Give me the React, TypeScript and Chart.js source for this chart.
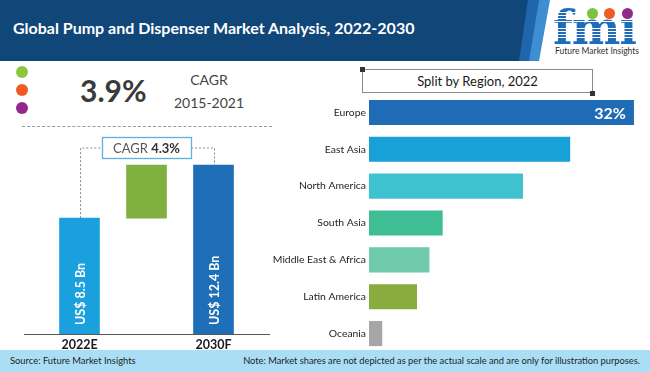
import React, { useEffect, useRef } from "react";
import { Chart, registerables } from "chart.js";

Chart.register(...registerables);

// ---------- data ----------
const periods = ["2022E", "", "2030F"];
const marketStart = 8.5; // US$ Bn, 2022E
const marketEnd = 12.4; // US$ Bn, 2030F
const forecastCagr = "4.3%";
const historicCagr = "3.9%";
const historicPeriod = "2015-2021";

const regions = [
  "Europe",
  "East Asia",
  "North America",
  "South Asia",
  "Middle East & Africa",
  "Latin America",
  "Oceania",
];
const regionShares = [32, 24.3, 18.6, 8.9, 7.3, 5.8, 1.6];
const regionColors = [
  "#1f6bb5",
  "#18a0d9",
  "#3ec2cf",
  "#3fbd95",
  "#6ecaaa",
  "#8aab3d",
  "#a6a6a6",
];
const marketColors = ["#1aa0dc", "#80b040", "#1f6eb8"];

const FONT = "Lato, 'Open Sans', sans-serif";

const marketBarPlugin = {
  id: "marketBarPlugin",
  afterDatasetsDraw(chart: any) {
    const ctx = chart.ctx;
    const meta = chart.getDatasetMeta(0);
    const bars = meta.data;
    // rotated value labels
    const vals = [marketStart, null, marketEnd];
    ctx.save();
    ctx.fillStyle = "#ffffff";
    ctx.font = "bold 12.5px " + FONT;
    ctx.textAlign = "left";
    ctx.textBaseline = "middle";
    bars.forEach((b: any, i: number) => {
      const v = vals[i];
      if (v == null) return;
      ctx.save();
      ctx.translate(b.x, b.base - 9);
      ctx.rotate(-Math.PI / 2);
      ctx.fillText("US$ " + v + " Bn", 0, 1);
      ctx.restore();
    });
    ctx.restore();

    // CAGR box + dotted connectors
    const b0 = bars[0];
    const b1 = bars[1];
    const b2 = bars[2];
    const boxTop = chart.chartArea.top + 2;
    const boxH = 21;
    const boxW = 89;
    const boxY = boxTop + boxH / 2;
    const boxL = b1.x - boxW / 2;
    const boxR = b1.x + boxW / 2;
    ctx.save();
    ctx.strokeStyle = "#8a8a8a";
    ctx.lineWidth = 1;
    ctx.setLineDash([2, 2]);
    ctx.beginPath();
    ctx.moveTo(Math.round(b0.x) + 0.5, b0.y);
    ctx.lineTo(Math.round(b0.x) + 0.5, boxY + 0.5);
    ctx.lineTo(boxL, boxY + 0.5);
    ctx.moveTo(boxR, boxY + 0.5);
    ctx.lineTo(Math.round(b2.x) + 0.5, boxY + 0.5);
    ctx.lineTo(Math.round(b2.x) + 0.5, b2.y);
    ctx.stroke();
    ctx.setLineDash([]);
    ctx.strokeStyle = "#5fb0e0";
    ctx.lineWidth = 1.3;
    ctx.strokeRect(boxL + 0.5, boxTop + 0.5, boxW, boxH);
    // text
    ctx.textBaseline = "middle";
    ctx.textAlign = "left";
    const t1 = "CAGR ";
    const t2 = forecastCagr;
    ctx.font = "13px " + FONT;
    const w1 = ctx.measureText(t1).width;
    ctx.font = "bold 13px " + FONT;
    const w2 = ctx.measureText(t2).width;
    const sx = b1.x - (w1 + w2) / 2;
    ctx.font = "13px " + FONT;
    ctx.fillStyle = "#555";
    ctx.fillText(t1, sx, boxY + 1);
    ctx.font = "bold 13px " + FONT;
    ctx.fillStyle = "#333";
    ctx.fillText(t2, sx + w1, boxY + 1);
    ctx.restore();
  },
};

const shareLabelPlugin = {
  id: "shareLabelPlugin",
  afterDatasetsDraw(chart: any) {
    const ctx = chart.ctx;
    const b = chart.getDatasetMeta(0).data[0];
    ctx.save();
    ctx.fillStyle = "#ffffff";
    ctx.font = "bold 16px " + FONT;
    ctx.textAlign = "right";
    ctx.textBaseline = "middle";
    ctx.fillText(regionShares[0] + "%", b.x - 8, b.y + 1);
    ctx.restore();
  },
};

export default function App() {
  const leftRef = useRef<HTMLCanvasElement>(null);
  const rightRef = useRef<HTMLCanvasElement>(null);

  useEffect(() => {
    const left = new Chart(leftRef.current as HTMLCanvasElement, {
      type: "bar",
      data: {
        labels: periods,
        datasets: [
          {
            data: [
              [0, marketStart],
              [marketStart, marketEnd],
              [0, marketEnd],
            ] as any,
            backgroundColor: marketColors,
            barThickness: 40,
          },
        ],
      },
      options: {
        responsive: false,
        animation: false,
        layout: { padding: 0 },
        plugins: { legend: { display: false }, tooltip: { enabled: false } },
        scales: {
          y: { display: false, min: 0, max: 14.6 },
          x: {
            grid: { display: false, drawTicks: false },
            border: { display: false },
            ticks: {
              color: "#1a1a1a",
              padding: 3,
              font: { family: FONT, size: 12.5, weight: "bold" },
            },
            afterFit: (s: any) => {
              s.height = 16;
            },
          },
        },
      },
      plugins: [marketBarPlugin],
    });

    const right = new Chart(rightRef.current as HTMLCanvasElement, {
      type: "bar",
      data: {
        labels: regions,
        datasets: [
          {
            data: regionShares,
            backgroundColor: regionColors,
            barPercentage: 0.68,
            categoryPercentage: 1,
          },
        ],
      },
      options: {
        indexAxis: "y",
        responsive: false,
        animation: false,
        layout: { padding: 0 },
        plugins: { legend: { display: false }, tooltip: { enabled: false } },
        scales: {
          x: { display: false, min: 0, max: 33.7 },
          y: {
            grid: { display: false, drawTicks: false },
            border: { display: false },
            ticks: {
              color: "#1e1e1e",
              padding: 3,
              font: { family: FONT, size: 10.4 },
            },
            afterFit: (s: any) => {
              s.width = 107;
              s.paddingTop = 0;
              s.paddingBottom = 0;
            },
          },
        },
      },
      plugins: [shareLabelPlugin],
    });

    return () => {
      left.destroy();
      right.destroy();
    };
  }, []);

  const abs = (o: any): React.CSSProperties => ({ position: "absolute", ...o });

  return (
    <div
      style={{
        position: "absolute",
        left: 0,
        top: 0,
        width: 650,
        height: 372,
        overflow: "hidden",
        background: "#ffffff",
        fontFamily: FONT,
      }}
    >
      {/* header */}
      <div style={abs({ left: 0, top: 0, width: 650, height: 61, background: "#114678" })} />
      <div
        style={abs({
          left: 0,
          top: 0,
          width: 650,
          height: 61,
          background: "#2066ad",
          clipPath: "polygon(528px 0, 541px 0, 532px 61px, 519px 61px)",
        })}
      />
      <div
        style={abs({
          left: 0,
          top: 0,
          width: 650,
          height: 61,
          background: "#3d8fd1",
          clipPath: "polygon(539px 0, 552px 0, 541px 61px, 529px 61px)",
        })}
      />
      <div
        style={abs({
          left: 0,
          top: 0,
          width: 650,
          height: 61,
          background: "#ffffff",
          clipPath: "polygon(550px 0, 650px 0, 650px 61px, 539px 61px)",
        })}
      />
      <div
        style={abs({
          left: 13,
          top: 16,
          height: 24,
          lineHeight: "24px",
          color: "#ffffff",
          fontSize: 16,
          fontWeight: 700,
          whiteSpace: "nowrap",
        })}
      >
        Global Pump and Dispenser Market Analysis, 2022-2030
      </div>
      {/* logo */}
      <div
        style={abs({
          left: 553,
          top: 3,
          fontFamily: "'DejaVu Serif', serif",
          fontWeight: 700,
          fontSize: 46,
          lineHeight: "50px",
          letterSpacing: -1,
          backgroundImage:
            "repeating-linear-gradient(to bottom, #1f6cb8 0px, #1f6cb8 2.4px, #ffffff 2.4px, #ffffff 3.2px)",
          WebkitBackgroundClip: "text",
          backgroundClip: "text",
          color: "transparent",
          whiteSpace: "nowrap",
        })}
      >
        fmı
      </div>
      <div style={abs({ left: 587, top: 8, width: 11, height: 11, borderRadius: 6, background: "#7cc242" })} />
      <div style={abs({ left: 604, top: 8, width: 11, height: 11, borderRadius: 6, background: "#f15a24" })} />
      <div style={abs({ left: 622, top: 8, width: 11, height: 11, borderRadius: 6, background: "#8e2b8c" })} />
      <div
        style={abs({
          left: 553,
          top: 46,
          width: 88,
          textAlign: "center",
          fontSize: 8.5,
          lineHeight: "10px",
          color: "#333",
          whiteSpace: "nowrap",
        })}
      >
        Future Market Insights
      </div>

      {/* historic CAGR block */}
      <div style={abs({ left: 16, top: 66, width: 12, height: 12, borderRadius: 6, background: "#8cc63f" })} />
      <div style={abs({ left: 16, top: 84, width: 12, height: 12, borderRadius: 6, background: "#f15a24" })} />
      <div style={abs({ left: 16, top: 102, width: 12, height: 12, borderRadius: 6, background: "#93278f" })} />
      <div
        style={abs({
          left: 80,
          top: 72,
          height: 36,
          lineHeight: "36px",
          fontSize: 30,
          fontWeight: 700,
          color: "#3a3a3a",
          whiteSpace: "nowrap",
        })}
      >
        {historicCagr}
      </div>
      <div
        style={abs({
          left: 169,
          top: 71,
          width: 80,
          textAlign: "center",
          lineHeight: "18px",
          fontSize: 14,
          color: "#444",
        })}
      >
        CAGR
      </div>
      <div
        style={abs({
          left: 169,
          top: 94,
          width: 80,
          textAlign: "center",
          lineHeight: "18px",
          fontSize: 14,
          color: "#444",
        })}
      >
        {historicPeriod}
      </div>
      <div style={abs({ left: 22, top: 126, width: 250, height: 0, borderTop: "1px dashed #9a9a9a" })} />

      {/* left chart */}
      <canvas
        ref={leftRef}
        width={201}
        height={215}
        style={abs({ left: 46, top: 135, width: 201, height: 215 })}
      />
      <div style={abs({ left: 24, top: 334, width: 246, height: 1, background: "#555" })} />

      {/* right chart */}
      <div
        style={abs({
          left: 362,
          top: 69,
          width: 229,
          height: 22,
          border: "1.5px solid #8a8a8a",
          textAlign: "center",
          lineHeight: "22px",
          fontSize: 13,
          color: "#1a1a1a",
          whiteSpace: "nowrap",
        })}
      >
        Split by Region, 2022
      </div>
      <div style={abs({ left: 360, top: 67, width: 5, height: 5, background: "#333" })} />
      <div style={abs({ left: 590, top: 91, width: 5, height: 5, background: "#333" })} />
      <canvas
        ref={rightRef}
        width={386}
        height={258}
        style={abs({ left: 262, top: 94, width: 386, height: 258 })}
      />

      {/* footer */}
      <div style={abs({ left: 0, top: 350, width: 650, height: 22, background: "#a9def4" })} />
      <div
        style={abs({
          left: 10,
          top: 350,
          height: 22,
          lineHeight: "22px",
          fontSize: 9.4,
          color: "#1e1e1e",
          whiteSpace: "nowrap",
        })}
      >
        Source: Future Market Insights
      </div>
      <div
        style={abs({
          right: 10,
          top: 350,
          height: 22,
          lineHeight: "22px",
          fontSize: 9.3,
          color: "#1e1e1e",
          whiteSpace: "nowrap",
          textAlign: "right",
        })}
      >
        Note: Market shares are not depicted as per the actual scale and are only for illustration purposes.
      </div>
    </div>
  );
}
